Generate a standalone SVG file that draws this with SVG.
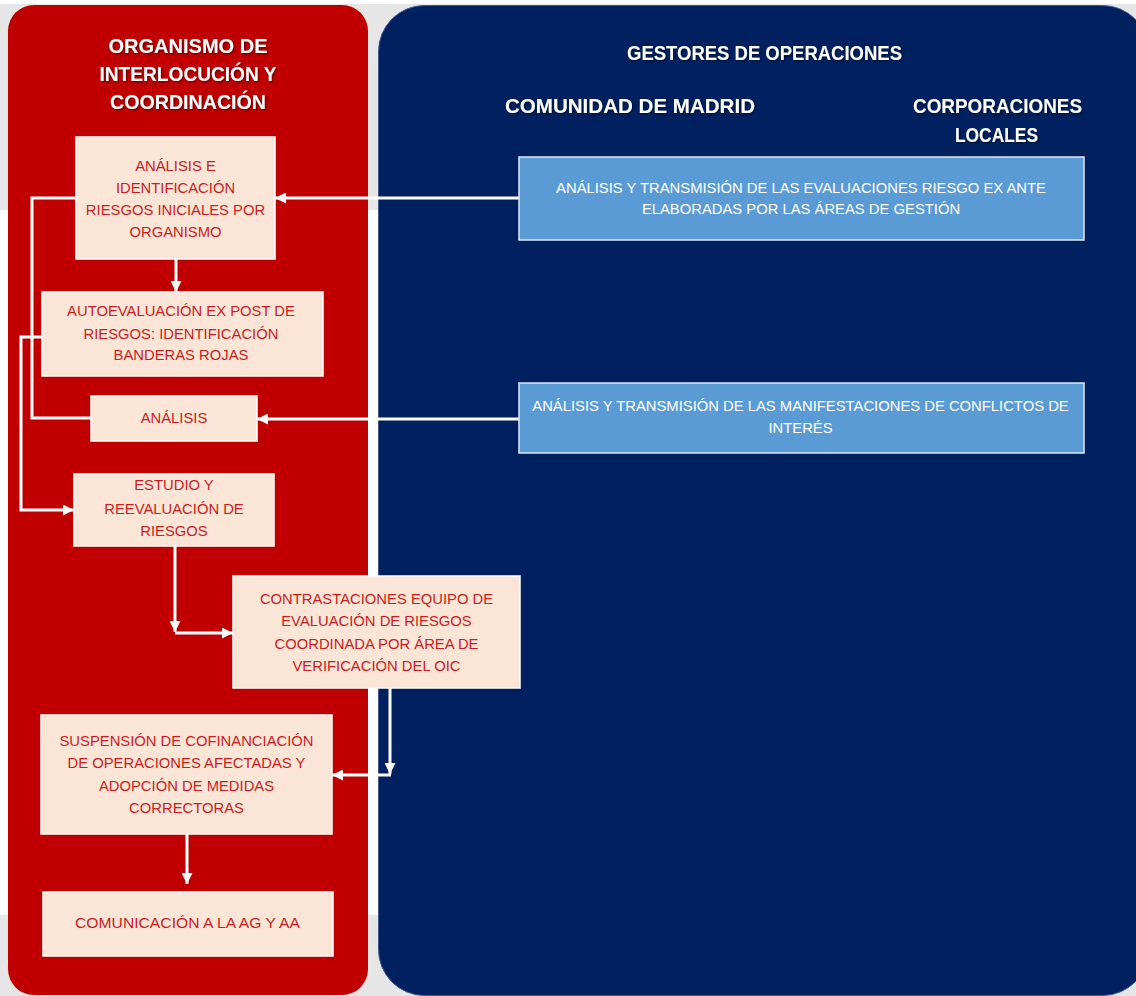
<svg xmlns="http://www.w3.org/2000/svg" width="1136" height="996" viewBox="0 0 1136 996">
  <defs>
    <style>
      .panel-red { fill: #c00000; }
      .panel-blue { fill: #002060; stroke: #3d5a91; stroke-width: 1; }
      .node rect { fill: #fbe5d6; stroke: #ffffff; stroke-width: 1.5; }
      .node text { font-family: "Liberation Sans", Arial, sans-serif; font-size: 14.8px; fill: #c81e1e; text-anchor: middle; }
      .src rect { fill: #5b9bd5; stroke: #dce9f6; stroke-width: 1.5; }
      .src text { font-family: "Liberation Sans", Arial, sans-serif; font-size: 14.8px; fill: #ffffff; text-anchor: middle; }
      .head { font-family: "Liberation Sans", Arial, sans-serif; font-size: 19.5px; font-weight: bold; fill: #ffffff; text-anchor: middle; filter: url(#shadow); }
      .conn { fill: none; stroke: #ffffff; stroke-width: 3; }
    </style>
    <marker id="arrow" viewBox="0 0 10 10" refX="10" refY="5" markerWidth="11" markerHeight="11" markerUnits="userSpaceOnUse" orient="auto">
      <path d="M0,0 L10,5 L0,10 Z" fill="#ffffff"/>
    </marker>
    <filter id="shadow" x="-10%" y="-30%" width="120%" height="160%">
      <feDropShadow dx="1" dy="1" stdDeviation="0.9" flood-color="#000000" flood-opacity="0.55"/>
    </filter>
  </defs>

  <!-- page background -->
  <rect x="0" y="0" width="1136" height="996" fill="#ffffff"/>
  <rect x="0" y="4" width="1136" height="206" fill="#e7e6e6"/>
  <rect x="0" y="915" width="1136" height="81" fill="#e7e6e6"/>

  <!-- swimlanes -->
  <g id="lane-oic">
    <rect class="panel-red" x="8" y="5" width="360" height="990" rx="26" ry="26"/>
    <text class="head" x="188" y="53" textLength="159" lengthAdjust="spacingAndGlyphs">ORGANISMO DE</text>
    <text class="head" x="188" y="81" textLength="177" lengthAdjust="spacingAndGlyphs">INTERLOCUCIÓN Y</text>
    <text class="head" x="188" y="109" textLength="156" lengthAdjust="spacingAndGlyphs">COORDINACIÓN</text>
  </g>
  <g id="lane-gestores">
    <rect class="panel-blue" x="378.5" y="5.5" width="770" height="990" rx="46" ry="46"/>
    <text class="head" x="764.5" y="60" textLength="275" lengthAdjust="spacingAndGlyphs">GESTORES DE OPERACIONES</text>
    <text class="head" x="630" y="113" textLength="250" lengthAdjust="spacingAndGlyphs">COMUNIDAD DE MADRID</text>
    <text class="head" x="997.5" y="113" textLength="169" lengthAdjust="spacingAndGlyphs">CORPORACIONES</text>
    <text class="head" x="996.5" y="141.5" textLength="83" lengthAdjust="spacingAndGlyphs">LOCALES</text>
  </g>

  <!-- connectors -->
  <g id="connectors">
    <path class="conn" d="M519,198 L275,198" marker-end="url(#arrow)"/>
    <path class="conn" d="M519,419 L257,419" marker-end="url(#arrow)"/>
    <path class="conn" d="M76,198 L32,198 L32,418 L91,418"/>
    <path class="conn" d="M42,337 L21,337 L21,510 L74,510" marker-end="url(#arrow)"/>
    <path class="conn" d="M176,259 L176,292" marker-end="url(#arrow)"/>
    <path class="conn" d="M175,546 L175,632" marker-end="url(#arrow)"/>
    <path class="conn" d="M175,633 L233,633" marker-end="url(#arrow)"/>
    <path class="conn" d="M390,688 L390,774" marker-end="url(#arrow)"/>
    <path class="conn" d="M391,775 L332,775" marker-end="url(#arrow)"/>
    <path class="conn" d="M187,834 L187,884" marker-end="url(#arrow)"/>
  </g>

  <!-- OIC process steps -->
  <g id="n-analisis-identificacion" class="node">
    <rect x="76" y="137" width="199" height="122"/>
    <text x="175.5" y="171">ANÁLISIS E</text>
    <text x="175.5" y="193">IDENTIFICACIÓN</text>
    <text x="175.5" y="215">RIESGOS INICIALES POR</text>
    <text x="175.5" y="236.5">ORGANISMO</text>
  </g>
  <g id="n-autoevaluacion" class="node">
    <rect x="42" y="292" width="281" height="84"/>
    <text x="181" y="316">AUTOEVALUACIÓN EX POST DE</text>
    <text x="181" y="338.5">RIESGOS: IDENTIFICACIÓN</text>
    <text x="181" y="360">BANDERAS ROJAS</text>
  </g>
  <g id="n-analisis" class="node">
    <rect x="91" y="396" width="166" height="45"/>
    <text x="174" y="423">ANÁLISIS</text>
  </g>
  <g id="n-estudio" class="node">
    <rect x="74" y="474" width="200" height="72"/>
    <text x="174" y="490">ESTUDIO Y</text>
    <text x="174" y="514">REEVALUACIÓN DE</text>
    <text x="174" y="536">RIESGOS</text>
  </g>
  <g id="n-contrastaciones" class="node">
    <rect x="233" y="576" width="287" height="112"/>
    <text x="376.5" y="604">CONTRASTACIONES EQUIPO DE</text>
    <text x="376.5" y="626">EVALUACIÓN DE RIESGOS</text>
    <text x="376.5" y="649">COORDINADA POR ÁREA DE</text>
    <text x="376.5" y="671">VERIFICACIÓN DEL OIC</text>
  </g>
  <g id="n-suspension" class="node">
    <rect x="41" y="715" width="291" height="119"/>
    <text x="186.5" y="746">SUSPENSIÓN DE COFINANCIACIÓN</text>
    <text x="186.5" y="768">DE OPERACIONES AFECTADAS Y</text>
    <text x="186.5" y="791">ADOPCIÓN DE MEDIDAS</text>
    <text x="186.5" y="813">CORRECTORAS</text>
  </g>
  <g id="n-comunicacion" class="node">
    <rect x="43" y="892" width="290" height="64"/>
    <text x="187.5" y="928" textLength="225" lengthAdjust="spacingAndGlyphs">COMUNICACIÓN A LA AG Y AA</text>
  </g>

  <!-- managing bodies inputs -->
  <g id="n-evaluaciones-ex-ante" class="src">
    <rect x="519" y="157" width="565" height="83"/>
    <text x="801" y="192.5">ANÁLISIS Y TRANSMISIÓN DE LAS EVALUACIONES RIESGO EX ANTE</text>
    <text x="801" y="214">ELABORADAS POR LAS ÁREAS DE GESTIÓN</text>
  </g>
  <g id="n-conflictos-interes" class="src">
    <rect x="519" y="383" width="565" height="70"/>
    <text x="800.5" y="411">ANÁLISIS Y TRANSMISIÓN DE LAS MANIFESTACIONES DE CONFLICTOS DE</text>
    <text x="800.5" y="433">INTERÉS</text>
  </g>
</svg>
